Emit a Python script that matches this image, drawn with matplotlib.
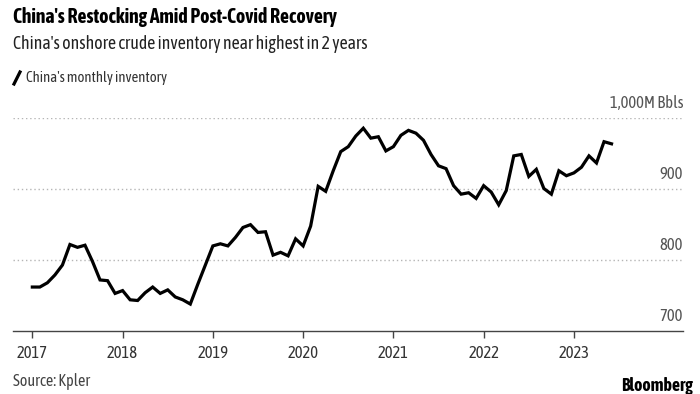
import matplotlib
matplotlib.use("Agg")
import matplotlib.pyplot as plt
import matplotlib.transforms as mtransforms
import numpy as np

# monthly inventory, million barrels, Jan 2017 .. Jun 2023
inventory = [
    762, 762, 768, 779, 793, 822, 818, 821, 798, 772, 771, 753,   # 2017
    757, 744, 743, 754, 762, 753, 758, 748, 744, 738, 766, 793,   # 2018
    820, 823, 820, 832, 846, 850, 839, 840, 807, 811, 806, 830,   # 2019
    820, 848, 904, 897, 926, 953, 960, 975, 986, 972, 974, 954,   # 2020
    960, 976, 983, 979, 969, 949, 933, 929, 905, 893, 895, 887,   # 2021
    905, 896, 878, 898, 947, 949, 918, 928, 901, 893, 926, 919,   # 2022
    923, 931, 947, 937, 967, 964,                                 # 2023
]
years = [2017, 2018, 2019, 2020, 2021, 2022, 2023]
y_ticks = [700, 800, 900, 1000]
y_labels = ["700", "800", "900", "1,000M Bbls"]

x = 2017 + np.arange(len(inventory)) / 12

plt.rcParams["font.family"] = ["Asap Condensed", "Lato", "DejaVu Sans"]

fig = plt.figure(figsize=(7, 3.94), dpi=100)
ax = fig.add_axes([13/700, 63/394, 670/700, 212.7/394])

ax.plot(x, inventory, color="black", lw=2.3, solid_joinstyle="miter", clip_on=False)

ax.set_xlim(2017 - 2.57/12, 2017 + 86.5/12)
ax.set_ylim(700, 1000)

for v in y_ticks[1:]:
    ax.axhline(v, color="#b5b5b5", lw=1, ls=(0, (1, 2)), zorder=0)

for s in ["top", "right", "left"]:
    ax.spines[s].set_visible(False)
ax.spines["bottom"].set_color("#444444")
ax.spines["bottom"].set_linewidth(1)

ax.set_yticks([])
ax.set_xticks(years)
ax.set_xticklabels([str(y) for y in years])
ax.tick_params(axis="x", length=5, width=1, color="#444444", labelsize=12,
               labelcolor="#333333", pad=5)

trans = mtransforms.blended_transform_factory(ax.transAxes, ax.transData)
for v, lab in zip(y_ticks, y_labels):
    ax.text(1.0, v + 9, lab, transform=trans, ha="right", va="bottom",
            fontsize=12, color="#555555", clip_on=False)

fig.text(13/700, 1 - 17/394, "China's Restocking Amid Post-Covid Recovery",
         fontsize=14.2, fontweight="bold", va="center", color="black")
fig.text(13/700, 1 - 44/394, "China's onshore crude inventory near highest in 2 years",
         fontsize=12.8, va="center", color="#222222")

# legend swatch
fig.lines.append(plt.Line2D([14/700, 20/700], [1 - 84/394, 1 - 72/394],
                            transform=fig.transFigure, color="black", lw=2.3))
fig.text(26/700, 1 - 78/394, "China's monthly inventory",
         fontsize=10.6, va="center", color="#333333")

fig.text(13/700, 1 - 381/394, "Source: Kpler", fontsize=11.5, va="center", color="#444444")
fig.text(693/700, 1 - 386/394, "Bloomberg", fontsize=12.8, fontweight="bold",
         ha="right", va="center", color="black")

fig.savefig("out.png", dpi=100)
